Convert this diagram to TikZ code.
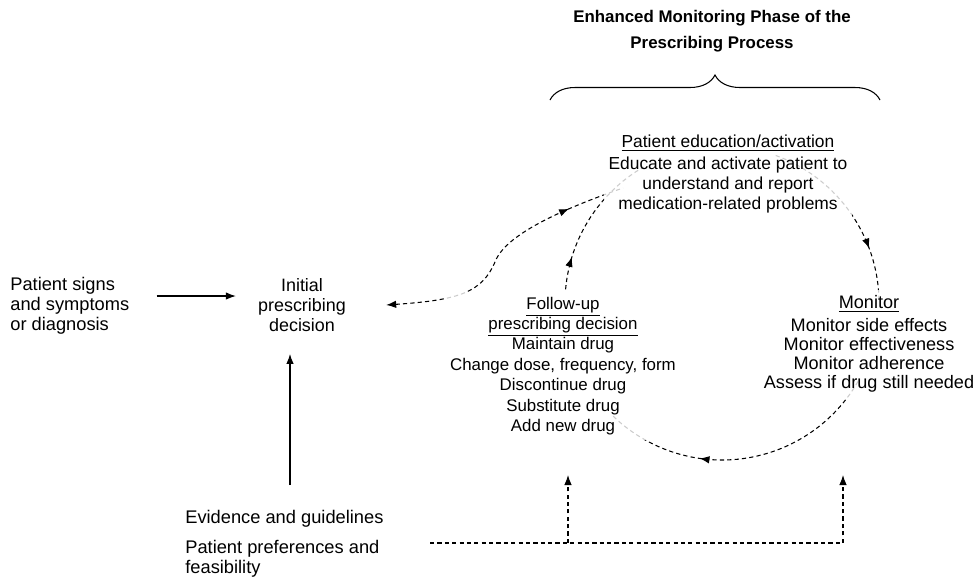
\documentclass[tikz,border=0pt]{standalone}
\usepackage{fontspec}
\setmainfont{Liberation Sans}
\usetikzlibrary{arrows.meta,decorations.pathreplacing,decorations.markings,backgrounds}

\begin{document}
\begin{tikzpicture}[x=0.02cm, y=-0.02cm, >={Latex[length=0.2cm,width=0.15cm]},
	every node/.style={font=\fontsize{9.9}{11.4}\selectfont, inner sep=0pt},
	txt/.style={align=left, anchor=west, font=\fontsize{10.4}{11.4}\selectfont},
	stage/.style={align=center, fill=white, fill opacity=0.8, text opacity=1, inner sep=0.1cm},
	flow/.style={line width=0.6pt, ->},
	link/.style={line width=0.6pt, dash pattern=on 2.4pt off 1.8pt},
	midarrow/.style={postaction=decorate, decoration={markings, mark=at position #1 with {\arrow{>}}}}]
	\useasboundingbox (0,0) rectangle (974,583);

	% heading and brace
	\node[font=\fontsize{9.6}{14.6}\selectfont\bfseries, align=center] (title) at (712,31) {Enhanced Monitoring Phase of the\\Prescribing Process};
	\coordinate (bl) at (550,100);
	\coordinate (br) at (880,100);
	\draw[line width=0.6pt, decorate, decoration={brace, amplitude=0.5cm}] (bl) -- (br);

	% initial decision
	\node[txt] (sig) at (10,306) {Patient signs\\and symptoms\\or diagnosis};
	\node[align=center, inner sep=0.44cm, font=\fontsize{10.2}{11.4}\selectfont] (init) at (302,305) {Initial\\prescribing\\decision};
	\node[txt] (evid) at (185,519) {Evidence and guidelines};
	\node[txt] (pref) at (185,559) {Patient preferences and\\feasibility};
	\draw[flow, shorten <=0.54cm] ([yshift=0.2cm]sig.east) -- ([yshift=0.2cm]sig.east -| init.west);
	\coordinate (up) at (290,485);
	\draw[flow] (up) -- (up |- init.south);

	% monitoring cycle
	\node[stage] (edu) at (728,174) {\underline{Patient education/activation}\\[1pt]Educate and activate patient to\\understand and report\\medication-related problems};
	\node[stage, font=\fontsize{10.3}{10.9}\selectfont] (mon) at (869,344) {\underline{Monitor}\\[2.2pt]Monitor side effects\\Monitor effectiveness\\Monitor adherence\\Assess if drug still needed};
	\node[stage, font=\fontsize{9.6}{11.6}\selectfont] (fol) at (563,366) {\underline{Follow-up}\\\underline{prescribing decision}\\Maintain drug\\Change dose, frequency, form\\Discontinue drug\\Substitute drug\\Add new drug};
	\coordinate (ctr) at (722,303);
	\coordinate (eduin) at (623,188);
	\begin{scope}[on background layer]
		\draw[link, midarrow=0.22] ([shift={(185:157)}]ctr) arc[start angle=185, end angle=240, radius=157];
		\draw[link, midarrow=0.71] ([shift={(-70:157)}]ctr) arc[start angle=-70, end angle=0, radius=157];
		\draw[link, midarrow=0.65] ([shift={(30:157)}]ctr) arc[start angle=30, end angle=135, radius=157];
		\draw[link, <-, midarrow=0.79] ([xshift=0.36cm]init.east) .. controls (460,300) and (482,292) .. (495,262) .. controls (505,235) and (560,210) .. (eduin);
	\end{scope}

	% evidence feeds
	\coordinate (j0) at (430,543);
	\coordinate (j1) at (568,543);
	\coordinate (t1) at (568,475);
	\coordinate (t2) at (843,475);
	\draw[link, ->] (j0) -| (t2);
	\draw[link, ->] (j1) -- (t1);
\end{tikzpicture}
\end{document}
